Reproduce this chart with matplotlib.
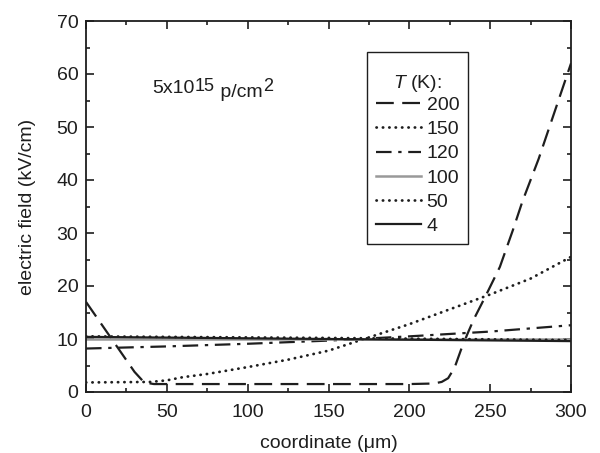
import matplotlib
matplotlib.use("Agg")
import matplotlib.pyplot as plt
from matplotlib.ticker import MultipleLocator

plt.rcParams['font.family'] = ['Liberation Sans', 'DejaVu Sans']
plt.rcParams['mathtext.fontset'] = 'custom'
plt.rcParams['mathtext.rm'] = 'Liberation Sans'
plt.rcParams['mathtext.it'] = 'Liberation Sans:italic'

# Data
x_200 = [0, 10, 20, 30, 36, 42, 100, 150, 200, 215, 220, 224, 228, 232, 236, 240, 247, 256, 264, 270, 280, 290, 300]
y_200 = [17.0, 12.6, 8.2, 3.8, 1.8, 1.5, 1.5, 1.5, 1.5, 1.6, 1.9, 2.6, 4.6, 8.0, 11.0, 13.8, 18.0, 23.6, 30.5, 36.0, 44.0, 53.0, 62.0]

x_150 = [0, 40, 50, 60, 75, 100, 125, 150, 170, 200, 225, 250, 275, 300]
y_150 = [1.8, 1.9, 2.2, 2.8, 3.4, 4.7, 6.1, 7.8, 9.8, 12.8, 15.6, 18.4, 21.4, 25.5]

x_120 = [0, 50, 100, 150, 200, 250, 300]
y_120 = [8.2, 8.6, 9.1, 9.7, 10.5, 11.4, 12.6]

x_100 = [0, 300]
y_100 = [10.0, 10.0]

x_50 = [0, 150, 300]
y_50 = [10.5, 10.2, 9.8]

x_4 = [0, 150, 300]
y_4 = [10.4, 10.0, 9.6]

fig = plt.figure(figsize=(6.0, 4.53), dpi=100)
ax = fig.add_axes([86/600, 1-392/453, (571-86)/600, (392-21)/453])

dark = '#1e1e1e'
lw = 1.6
ax.plot(x_200, y_200, color=dark, lw=lw, dashes=(8, 3.8), label='200')
ax.plot(x_150, y_150, color=dark, lw=2.0, linestyle=(0, (0.1, 2.2)), dash_capstyle='round', label='150')
ax.plot(x_120, y_120, color=dark, lw=lw, dashes=(7, 3, 1.5, 3), label='120')
ax.plot(x_100, y_100, color='#999999', lw=1.8, label='100')
ax.plot(x_50, y_50, color=dark, lw=2.0, linestyle=(0, (0.1, 2.2)), dash_capstyle='round', label='50')
ax.plot(x_4, y_4, color=dark, lw=lw, label='4')

ax.set_xlim(0, 300)
ax.set_ylim(0, 70)
ax.xaxis.set_major_locator(MultipleLocator(50))
ax.xaxis.set_minor_locator(MultipleLocator(25))
ax.yaxis.set_major_locator(MultipleLocator(10))
ax.yaxis.set_minor_locator(MultipleLocator(5))
ax.tick_params(which='both', direction='in', top=True, right=True, labelsize=14, width=1.2, colors=dark)
ax.tick_params(which='major', length=6)
ax.tick_params(which='minor', length=3.2)
ax.tick_params(axis='x', which='major', pad=8.5)
ax.tick_params(axis='y', which='major', pad=5.5)
for s in ax.spines.values():
    s.set_linewidth(1.3)
    s.set_color(dark)

ax.set_xlabel('coordinate (\u03bcm)', fontsize=14, labelpad=10, color=dark)
ax.set_ylabel('electric field (kV/cm)', fontsize=14, labelpad=15, color=dark)

# annotation 5x10^15 p/cm^2 built from pieces
t1 = ax.text(0.136, 0.806, '5x10', transform=ax.transAxes, fontsize=14, va='baseline', color=dark)
t2 = ax.annotate('15', xy=(1, 0), xycoords=t1, xytext=(0.5, 4.5), textcoords='offset points',
                 fontsize=13, va='baseline', color=dark)
t3 = ax.annotate(' p/cm', xy=(1, 0), xycoords=t2, xytext=(0, -4.5), textcoords='offset points',
                 fontsize=14, va='bottom', color=dark)
t4 = ax.annotate('2', xy=(1, 0), xycoords=t3, xytext=(0.5, 4.5), textcoords='offset points',
                 fontsize=13, va='bottom', color=dark)

leg = ax.legend(title='\n$T$ (K):', loc='upper left', bbox_to_anchor=((367-86)/485, (392-52)/371),
                borderaxespad=0, fontsize=14, title_fontsize=14, handlelength=2.3,
                handletextpad=0.3, labelspacing=0.335, fancybox=False, framealpha=1,
                edgecolor=dark, borderpad=0.46)
leg.get_title().set_linespacing(0.7)
leg.get_title().set_color(dark)
leg._legend_box.sep = 1.5
for t in leg.get_texts():
    t.set_color(dark)
leg.get_frame().set_linewidth(1.0)

fig.savefig('out.png', dpi=100)
